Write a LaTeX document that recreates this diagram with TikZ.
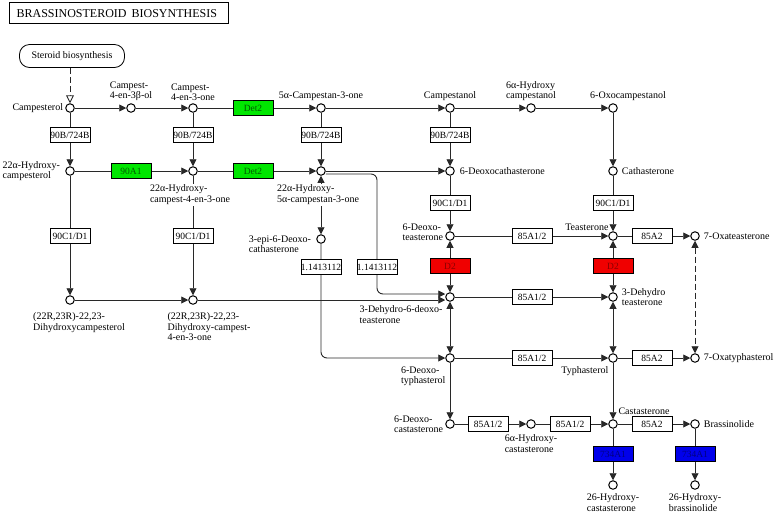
\documentclass[tikz,border=0pt]{standalone}
\usepackage{fontspec}
\setmainfont{Liberation Serif}
\usetikzlibrary{arrows.meta,positioning}

\definecolor{enzgreen}{RGB}{0,230,0}
\definecolor{enzred}{RGB}{240,0,0}
\definecolor{enzblue}{RGB}{0,0,235}
\definecolor{linegray}{RGB}{40,40,40}

\tikzset{
  cpd/.style={circle, draw=black, fill=white, line width=1pt, minimum size=8.5pt, inner sep=0pt},
  enz/.style={draw=black, fill=white, sharp corners, line width=0.6pt, minimum width=40pt,
              minimum height=15pt, inner sep=0pt, font=\fontsize{9.5}{10}\selectfont},
  enzg/.style={enz, fill=enzgreen, text=green!35!black},
  enzr/.style={enz, fill=enzred, text=red!55!black},
  enzb/.style={enz, fill=enzblue, text=blue!50!black},
  lbl/.style={font=\fontsize{10}{10.5}\selectfont, align=left, inner sep=1pt, fill=white},
  rxn/.style={draw=linegray, line width=0.9pt, -{Triangle[length=7pt,width=7pt]}},
  rev/.style={draw=linegray, line width=0.9pt, {Triangle[length=7pt,width=7pt]}-{Triangle[length=7pt,width=7pt]}},
}

\begin{document}
\begin{tikzpicture}[x=1pt, y=-1pt]
    \useasboundingbox (0,0) rectangle (778,515);

    % Title and map link
    \node[draw, line width=1.2pt, anchor=north west, text width=205pt, inner xsep=7pt,
          minimum height=21pt, align=left, font=\fontsize{12}{12}\selectfont]
          (title) at (9,2) {BRASSINOSTEROID\hspace{5pt}BIOSYNTHESIS};
    \node[draw, line width=0.8pt, rounded corners=10pt, minimum width=105pt, minimum height=23pt,
          font=\fontsize{10}{10}\selectfont] (sbio) at (72,56) {Steroid biosynthesis};

    % Compounds
    \node[cpd] (cpe) at (70,108) {};
    \node[cpd] (c43b) at (131,108) {};
    \node[cpd] (c4en) at (193,108) {};
    \node[cpd] (c5a) at (321,108) {};
    \node[cpd] (cpn) at (450,108) {};
    \node[cpd] (h6cpn) at (531,108) {};
    \node[cpd] (o6cpn) at (613,108) {};

    \node[cpd] (hcpe) at (70,171) {};
    \node[cpd] (hc4en) at (193,171) {};
    \node[cpd] (hc5a) at (321,171) {};
    \node[cpd] (d6ct) at (450,171) {};
    \node[cpd] (cat) at (613,171) {};

    \node[cpd] (epi) at (321,239) {};
    \node[cpd] (dhcpe) at (70,300) {};
    \node[cpd] (dhc4en) at (193,300) {};

    \node[cpd] (d6te) at (450,236) {};
    \node[cpd] (te) at (613,236) {};
    \node[cpd] (oxte) at (695,236) {};
    \node[cpd] (d3d6te) at (450,297) {};
    \node[cpd] (d3te) at (613,297) {};
    \node[cpd] (d6ty) at (450,358) {};
    \node[cpd] (ty) at (613,358) {};
    \node[cpd] (oxty) at (695,358) {};
    \node[cpd] (d6cs) at (450,424) {};
    \node[cpd] (h6cs) at (531,424) {};
    \node[cpd] (cs) at (613,424) {};
    \node[cpd] (bl) at (695,424) {};
    \node[cpd] (h26cs) at (613,485) {};
    \node[cpd] (h26bl) at (695,485) {};

    % Link from steroid biosynthesis
    \draw[draw=linegray, line width=0.9pt, dash pattern=on 6pt off 3pt,
          -{Triangle[open, length=8pt, width=8pt, fill=white]}] (sbio.south -| cpe) -- (cpe);

    % Campesterol row
    \draw[rxn] (cpe) -- (c43b);
    \draw[rxn] (c43b) -- (c4en);
    \draw[rxn] (c4en) -- (c5a);
    \draw[rxn] (c5a) -- (cpn);
    \draw[rxn] (cpn) -- (h6cpn);
    \draw[rxn] (h6cpn) -- (o6cpn);

    % C-22 hydroxylation
    \draw[rxn] (cpe) -- (hcpe);
    \draw[rxn] (c4en) -- (hc4en);
    \draw[rxn] (c5a) -- (hc5a);
    \draw[rxn] (cpn) -- (d6ct);
    \draw[rxn] (o6cpn) -- (cat);

    \draw[rxn] (hcpe) -- (hc4en);
    \draw[rxn] (hc4en) -- (hc5a);
    \draw[rxn] (hc5a) -- (d6ct);
    \draw[rev] (hc5a) -- (epi);

    % C-23 hydroxylation
    \draw[rxn] (hcpe) -- (dhcpe);
    \draw[rxn] (hc4en) -- (dhc4en);
    \draw[rxn] (dhcpe) -- (dhc4en);
    \draw[rxn] (dhc4en) -- ([yshift=-3pt]d3d6te.west);
    \coordinate (bend) at (377,267);
    \draw[rxn, rounded corners=6pt] ([yshift=-3pt]hc5a.east) -| (bend) |- ([yshift=3pt]d3d6te.west);
    \draw[rxn, rounded corners=6pt] (epi) |- (d6ty);
    \draw[rxn] (d6ct) -- (d6te);
    \draw[rxn] (cat) -- (te);

    % Late C-6 oxidation
    \draw[rxn] (d6te) -- (te);
    \draw[rxn] (d3d6te) -- (d3te);
    \draw[rxn] (d6ty) -- (ty);
    \draw[rev] (d6te) -- (d3d6te);
    \draw[rev] (d3d6te) -- (d6ty);
    \draw[rev] (te) -- (d3te);
    \draw[rev] (d3te) -- (ty);
    \draw[rxn] (d6ty) -- (d6cs);
    \draw[rxn] (ty) -- (cs);
    \draw[rxn] (d6cs) -- (h6cs);
    \draw[rxn] (h6cs) -- (cs);

    % Lactones and C-26 hydroxylation
    \draw[rxn] (te) -- (oxte);
    \draw[rxn] (ty) -- (oxty);
    \draw[rev, dash pattern=on 6pt off 3pt] (oxte) -- (oxty);
    \draw[rxn] (cs) -- (bl);
    \draw[rxn] (cs) -- (h26cs);
    \draw[rxn] (bl) -- (h26bl);

    % Enzymes
    \node[enz] (e1) at (70,135) {90B/724B};
    \node[enz] (e2) at (193,135) {90B/724B};
    \node[enz] (e3) at (321,135) {90B/724B};
    \node[enz] (e4) at (450,135) {90B/724B};
    \node[enzg] (e5) at (253,108) {Det2};
    \node[enzg] (e6) at (131,171) {90A1};
    \node[enzg] (e7) at (253,171) {Det2};
    \node[enz] (e8) at (70,236) {90C1/D1};
    \node[enz] (e9) at (193,236) {90C1/D1};
    \node[enz] (e10) at (450,203) {90C1/D1};
    \node[enz] (e11) at (613,203) {90C1/D1};
    \node[enz] (e12) at (321,267) {1.1413112};
    \node[enz] (e13) at (bend) {1.1413112};
    \node[enzr] (e14) at (450,266) {D2};
    \node[enzr] (e15) at (613,266) {D2};
    \node[enz] (e16) at (532,236) {85A1/2};
    \node[enz] (e17) at (652,236) {85A2};
    \node[enz] (e18) at (532,297) {85A1/2};
    \node[enz] (e19) at (532,358) {85A1/2};
    \node[enz] (e20) at (652,358) {85A2};
    \node[enz] (e21) at (488,424) {85A1/2};
    \node[enz] (e22) at (570,424) {85A1/2};
    \node[enz] (e23) at (652,424) {85A2};
    \node[enzb] (e24) at (613,454) {734A1};
    \node[enzb] (e25) at (695,454) {734A1};

    % Compound labels
    \node[lbl, left=1pt of cpe] (lcpe) {Campesterol};
    \node[lbl, above=1pt of c43b] (lc43b) {Campest-\\4-en-3β-ol};
    \node[lbl, above=1pt of c4en] (lc4en) {Campest-\\4-en-3-one};
    \node[lbl, above=1pt of c5a] (lc5a) {5α-Campestan-3-one};
    \node[lbl, above=1pt of cpn] (lcpn) {Campestanol};
    \node[lbl, above=1pt of h6cpn] (lh6cpn) {6α-Hydroxy\\campestanol};
    \node[lbl, above=1pt of o6cpn, xshift=15pt] (lo6cpn) {6-Oxocampestanol};
    \node[lbl, left=4pt of hcpe] (lhcpe) {22α-Hydroxy-\\campesterol};
    \node[lbl, below=8pt of hc4en, xshift=-3pt] (lhc4en) {22α-Hydroxy-\\campest-4-en-3-one};
    \node[lbl, below=8pt of hc5a, xshift=-3pt] (lhc5a) {22α-Hydroxy-\\5α-campestan-3-one};
    \node[lbl, right=4pt of d6ct] (ld6ct) {6-Deoxocathasterone};
    \node[lbl, right=3pt of cat] (lcat) {Cathasterone};
    \node[lbl, left=4pt of epi, yshift=-5pt] (lepi) {3-epi-6-Deoxo-\\cathasterone};
    \node[lbl, below=7pt of dhcpe, xshift=9pt] (ldhcpe) {(22R,23R)-22,23-\\Dihydroxycampesterol};
    \node[lbl, below=7pt of dhc4en, xshift=16pt] (ldhc4en) {(22R,23R)-22,23-\\Dihydroxy-campest-\\4-en-3-one};
    \node[lbl, left=1pt of d6te, yshift=4pt] (ld6te) {6-Deoxo-\\teasterone};
    \node[lbl, above left=1pt and 0pt of te] (lte) {Teasterone};
    \node[lbl, right=3pt of oxte] (loxte) {7-Oxateasterone};
    \node[lbl, anchor=north east] (ld3d6te) at ([xshift=-3pt, yshift=-4pt]d3d6te.south west) {3-Dehydro-6-deoxo-\\teasterone};
    \node[lbl, right=3pt of d3te] (ld3te) {3-Dehydro\\teasterone};
    \node[lbl, anchor=north east] (ld6ty) at ([yshift=-4pt]d6ty.south west) {6-Deoxo-\\typhasterol};
    \node[lbl, anchor=north east] (lty) at ([yshift=-4pt]ty.south west) {Typhasterol};
    \node[lbl, right=3pt of oxty] (loxty) {7-Oxatyphasterol};
    \node[lbl, left=1pt of d6cs] (ld6cs) {6-Deoxo-\\castasterone};
    \node[lbl, below=5pt of h6cs] (lh6cs) {6α-Hydroxy-\\castasterone};
    \node[lbl, above right=5pt and 1pt of cs] (lcs) {Castasterone};
    \node[lbl, right=3pt of bl] (lbl) {Brassinolide};
    \node[lbl, below=3pt of h26cs] (lh26cs) {26-Hydroxy-\\castasterone};
    \node[lbl, below=3pt of h26bl] (lh26bl) {26-Hydroxy-\\brassinolide};
\end{tikzpicture}
\end{document}
